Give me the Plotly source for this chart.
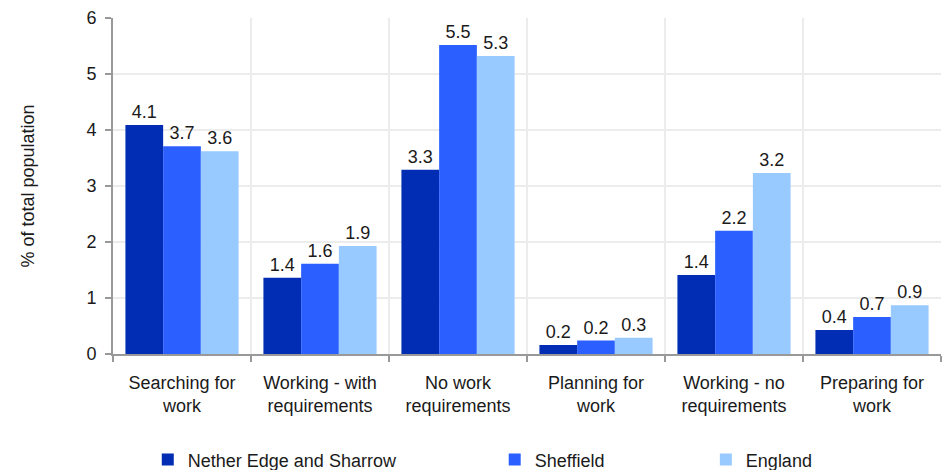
import plotly.graph_objects as go

categories = ["Searching for<br>work", "Working - with<br>requirements", "No work<br>requirements",
              "Planning for<br>work", "Working - no<br>requirements", "Preparing for<br>work"]
nether = [4.09, 1.36, 3.29, 0.16, 1.41, 0.43]
sheffield = [3.71, 1.61, 5.52, 0.24, 2.20, 0.66]
england = [3.62, 1.93, 5.32, 0.29, 3.23, 0.87]
series_names = ["Nether Edge and Sharrow", "Sheffield", "England"]
colors = ["#002DB4", "#2B5FFF", "#99CAFF"]

FONT = "Liberation Sans, Arial, sans-serif"
fig = go.Figure()
for i, (name, vals, col) in enumerate(zip(series_names, [nether, sheffield, england], colors)):
    fig.add_trace(go.Bar(
        x=categories, y=vals, name=name, marker=dict(color=col, line=dict(width=0)),
        texttemplate="%{y:.1f}", textposition="outside", cliponaxis=False,
        textfont=dict(size=18, color="#1a1a1a", family=FONT),
        showlegend=True,
        legend="legend" if i == 0 else f"legend{i+1}",
    ))

leg_common = dict(orientation="h", yanchor="middle", y=-0.315, xanchor="left",
                  font=dict(size=18, color="#1a1a1a", family=FONT), bgcolor="rgba(0,0,0,0)")
fig.update_layout(
    width=943, height=470,
    margin=dict(l=113, r=2, t=18, b=116, autoexpand=False),
    paper_bgcolor="white", plot_bgcolor="white",
    showlegend=True,
    barmode="group", bargap=0.18, bargroupgap=0,
    font=dict(family=FONT, size=18, color="#1a1a1a"),
    legend=dict(x=0.042, **leg_common),
    legend2=dict(x=0.461, **leg_common),
    legend3=dict(x=0.716, **leg_common),
    xaxis=dict(tickson="boundaries", ticks="outside", ticklen=6, tickcolor="#999999", tickwidth=2,
               showline=True, linecolor="#999999", linewidth=2, automargin=False,
               showgrid=True, gridcolor="#ececec", gridwidth=2, ticklabelstandoff=11,
               tickfont=dict(size=18, family=FONT, color="#1a1a1a")),
    yaxis=dict(range=[0, 6], dtick=1, ticks="outside", ticklen=6, tickcolor="#999999", tickwidth=2,
               showline=True, linecolor="#999999", linewidth=2, zeroline=False, automargin=False,
               showgrid=True, gridcolor="#ececec", gridwidth=2, ticklabelstandoff=5,
               tickfont=dict(size=18, family=FONT, color="#1a1a1a"),
               title=dict(text="% of total population", font=dict(size=18, family=FONT, color="#1a1a1a"),
                          standoff=47)),
)
fig.write_html("out.html", config={"displayModeBar": False},
               post_script="document.body.style.margin='0';document.body.style.overflow='hidden';")
